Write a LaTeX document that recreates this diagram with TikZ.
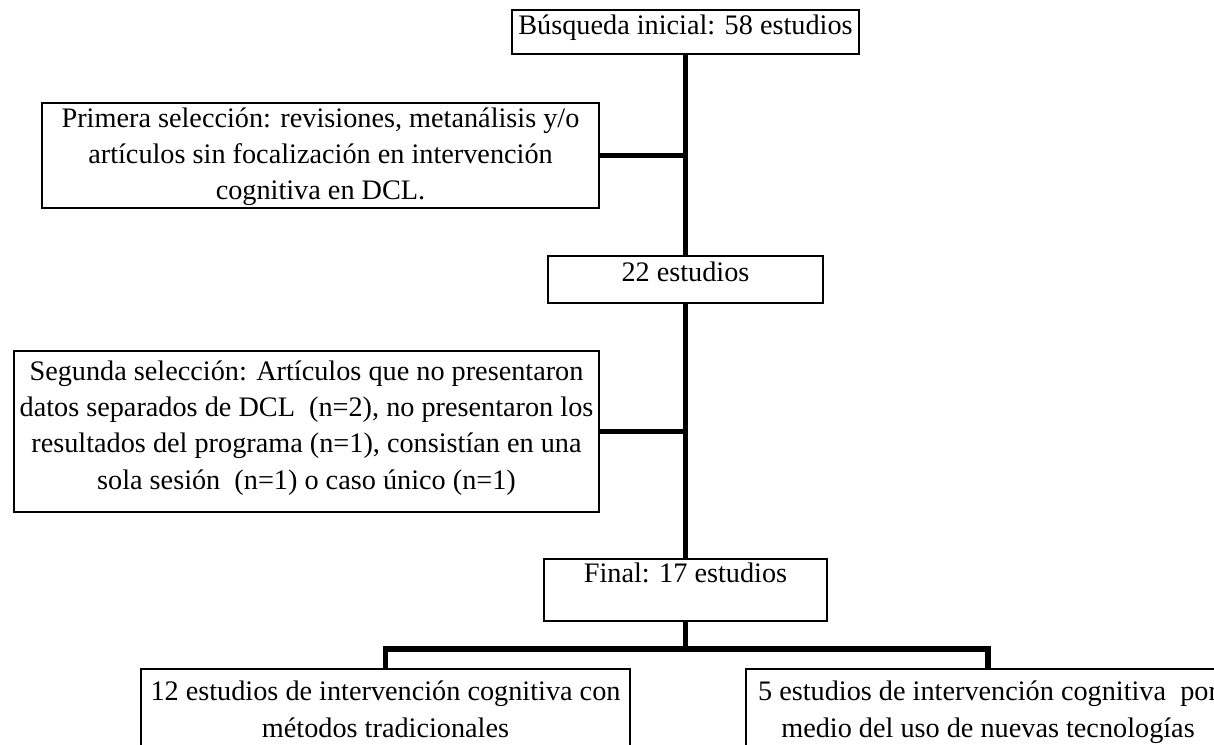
\documentclass[tikz,border=0pt]{standalone}
\usepackage{fontspec}
\setmainfont{Liberation Serif}
\usetikzlibrary{calc}
\tikzset{
  box/.style={draw, line width=0.6pt, inner sep=0pt},
  txt/.style={align=center, inner sep=0pt, font=\fontsize{11.3}{14.5}\selectfont},
  link/.style={line width=2.2pt}
}

\begin{document}
\begin{tikzpicture}[x=0.4pt, y=-0.4pt]
    \useasboundingbox (0,0) rectangle (1214,745);
    \clip (0,0) rectangle (1214,745);
    % Boxes
    \node[box, minimum width=138.8pt, minimum height=17.6pt] (top) at (685.5,32) {};
    \node[box, minimum width=222.8pt, minimum height=42pt] (prim) at (320.5,155.5) {};
    \node[box, minimum width=110pt, minimum height=18.8pt] (b22) at (685.5,279.5) {};
    \node[box, minimum width=234pt, minimum height=64.4pt] (seg) at (306.5,431.5) {};
    \node[box, minimum width=113.2pt, minimum height=24.8pt] (final) at (685.5,590) {};
    \node[box, minimum width=195.6pt, minimum height=48pt] (trad) at (385.5,729) {};
    \node[box, minimum width=193.6pt, minimum height=48pt] (tec) at (988,729) {};
    % Texts
    \node[txt, anchor=base] (ttop) at ([yshift=-10pt]top.north) {Búsqueda inicial: 58 estudios};
    \node[txt, anchor=north] (tprim) at ([yshift=-2pt]prim.north) {Primera selección: revisiones, metanálisis y/o\\ artículos sin focalización en intervención\\ cognitiva en DCL.};
    \node[txt, anchor=base] (t22) at ([yshift=-10.4pt]b22.north) {22 estudios};
    \node[txt, anchor=north] (tseg) at ([yshift=-4pt]seg.north) {Segunda selección: Artículos que no presentaron\\ datos separados de DCL~ (n=2), no presentaron los\\ resultados del programa (n=1), consistían en una\\ sola sesión~ (n=1) o caso único (n=1)};
    \node[txt, anchor=base] (tfinal) at ([yshift=-9.6pt]final.north) {Final: 17 estudios};
    \node[txt, anchor=north] (ttrad) at ([yshift=-5pt]trad.north) {12 estudios de intervención cognitiva con\\ métodos tradicionales};
    \node[txt, anchor=north] (ttec) at ([yshift=-5pt]tec.north) {5 estudios de intervención cognitiva~ por\\ medio del uso de nuevas tecnologías};
    % Connectors
    \draw[link] (top) -- (b22);
    \draw[link] (b22) -- (final);
    \draw[link] (prim.east) -- (prim.east -| top.south);
    \draw[link] (seg.east) -- (seg.east -| top.south);
    \draw[link] (final.south) -- ++(0,27) coordinate (split);
    \draw[link] (trad.north) |- (split) -| (tec.north);
\end{tikzpicture}
\end{document}
